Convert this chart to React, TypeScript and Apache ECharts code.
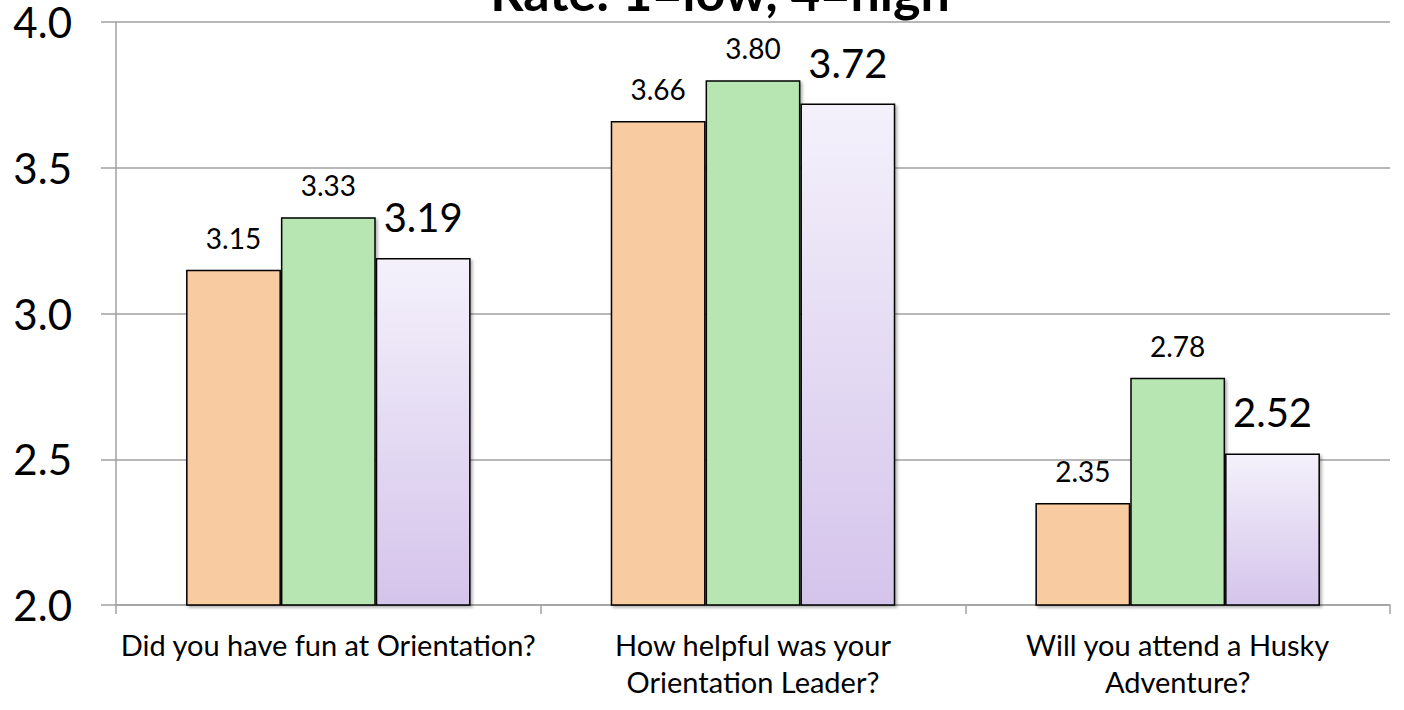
import React, { useEffect, useRef } from "react";
import * as echarts from "echarts";

const categories = [
  "Did you have fun at Orientation?",
  "How helpful was your\nOrientation Leader?",
  "Will you attend a Husky\nAdventure?",
];
const seriesA = [3.15, 3.66, 2.35];
const seriesB = [3.33, 3.8, 2.78];
const seriesC = [3.19, 3.72, 2.52];
const titleText = "Rate: 1=low, 4=high";
const yMin = 2;
const yMax = 4;
const yStep = 0.5;

const FONT = "Lato, 'Open Sans', sans-serif";

export default function App() {
  const ref = useRef<HTMLDivElement>(null);
  useEffect(() => {
    if (!ref.current) return;
    const chart = echarts.init(ref.current, undefined, { renderer: "svg" });
    const shadow = {
      shadowColor: "rgba(0,0,0,0.3)",
      shadowBlur: 3,
      shadowOffsetX: 2,
      shadowOffsetY: 2,
    };
    const smallLabel = {
      show: true,
      position: "top" as const,
      distance: 18,
      fontFamily: FONT,
      fontSize: 28,
      color: "#000",
      formatter: (p: any) => p.value.toFixed(2),
    };
    chart.setOption({
      animation: false,
      backgroundColor: "#fff",
      graphic: [
        {
          type: "text",
          x: 720,
          y: -9,
          style: {
            text: titleText,
            font: "bold 52px " + FONT,
            fill: "#000",
            textAlign: "center",
            textVerticalAlign: "middle",
          },
        },
      ],
      grid: { left: 116, right: 14, top: 22, bottom: 105 },
      xAxis: {
        type: "category",
        data: categories,
        axisLine: { show: true, lineStyle: { color: "#a0a0a0", width: 1.5 } },
        axisTick: { show: true, length: 9, lineStyle: { color: "#a0a0a0", width: 1.5 } },
        axisLabel: {
          fontFamily: FONT,
          fontSize: 29,
          lineHeight: 37,
          color: "#000",
          margin: 21,
          interval: 0,
        },
      },
      yAxis: {
        type: "value",
        min: yMin,
        max: yMax,
        interval: yStep,
        axisLine: { show: true, lineStyle: { color: "#a0a0a0", width: 1.5 } },
        axisTick: { show: true, length: 15, lineStyle: { color: "#a0a0a0", width: 1.5 } },
        splitLine: { show: true, lineStyle: { color: "#a0a0a0", width: 1.5 } },
        axisLabel: {
          fontFamily: FONT,
          fontSize: 42,
          color: "#000",
          margin: 44,
          formatter: (v: number) => v.toFixed(1),
        },
      },
      series: [
        {
          type: "bar",
          data: seriesA,
          barGap: "0%",
          barCategoryGap: "33%",
          itemStyle: { color: "#F9CBA0", borderColor: "#000", borderWidth: 1.5, ...shadow },
          label: smallLabel,
        },
        {
          type: "bar",
          data: seriesB,
          barGap: "0%",
          barCategoryGap: "33%",
          itemStyle: { color: "#B7E6B2", borderColor: "#000", borderWidth: 1.5, ...shadow },
          label: smallLabel,
        },
        {
          type: "bar",
          data: seriesC,
          barGap: "0%",
          barCategoryGap: "33%",
          itemStyle: {
            color: new echarts.graphic.LinearGradient(0, 0, 0, 1, [
              { offset: 0, color: "#F4F1FB" },
              { offset: 1, color: "#D4C4EB" },
            ]),
            borderColor: "#000",
            borderWidth: 1.5,
            ...shadow,
          },
          label: {
            ...smallLabel,
            fontSize: 40,
            distance: 21,
          },
        },
      ],
    });
    return () => chart.dispose();
  }, []);
  return (
    <div
      ref={ref}
      style={{ position: "fixed", left: 0, top: 0, width: 1404, height: 710 }}
    />
  );
}
